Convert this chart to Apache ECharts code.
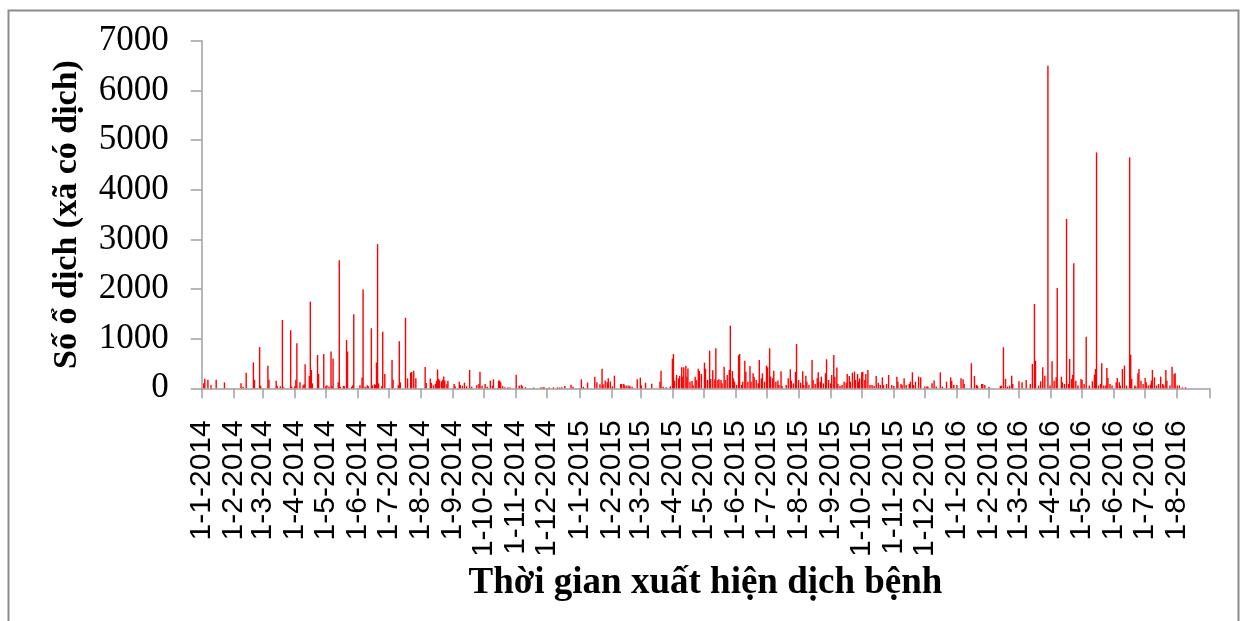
<!DOCTYPE html>
<html>
<head>
<meta charset="utf-8">
<script src="https://cdn.jsdelivr.net/npm/echarts@6/dist/echarts.min.js"></script>
<style>html,body{margin:0;padding:0;background:#fff}#c{width:1242px;height:621px}</style>
</head>
<body>
<div id="c"></div>
<script>
// Axis range (daily categories) and tick labels
const startDate = '2014-01-01';
const endDate = '2016-09-01';
const yTicks = [0, 1000, 2000, 3000, 4000, 5000, 6000, 7000];
const yTitle = 'Số ổ dịch (xã có dịch)';
const xTitle = 'Thời gian xuất hiện dịch bệnh';

// Daily outbreak counts: [month-day, value]
const cases2014 = [
['01-03',100],['01-04',190],['01-07',170],['01-10',60],['01-15',170],['01-23',120],
['02-08',100],['02-10',30],['02-13',315],['02-20',520],['02-21',170],['02-26',830],['02-27',50],
['03-06',455],['03-07',170],['03-14',150],['03-15',40],['03-18',40],['03-20',1375],['03-21',20],['03-28',1170],['03-29',30],
['04-01',40],['04-02',170],['04-03',905],['04-06',120],['04-09',60],['04-10',80],['04-11',485],['04-15',250],['04-16',1745],['04-17',370],['04-18',100],['04-23',670],['04-24',290],['04-29',690],
['05-01',40],['05-02',60],['05-04',30],['05-06',740],['05-07',40],['05-08',600],['05-13',120],['05-14',2580],['05-15',30],['05-18',50],['05-19',40],['05-21',975],['05-22',740],['05-26',30],['05-27',60],['05-28',1490],
['06-03',60],['06-05',220],['06-06',1990],['06-08',30],['06-10',60],['06-11',40],['06-14',1210],['06-15',60],['06-17',80],['06-18',70],['06-19',520],['06-20',2905],['06-21',100],['06-24',40],['06-25',1140],['06-27',290],
['07-04',570],['07-05',170],['07-10',60],['07-11',950],['07-12',120],['07-17',1420],['07-19',200],['07-22',315],['07-23',330],['07-25',355],['07-27',200],
['08-05',430],['08-06',105],['08-10',195],['08-11',110],['08-13',60],['08-15',90],['08-16',150],['08-17',380],['08-18',190],['08-19',160],['08-21',140],['08-22',170],['08-23',240],['08-24',155],['08-26',80],['08-27',150],
['09-02',87],['09-03',40],['09-07',134],['09-08',67],['09-10',50],['09-12',114],['09-14',40],['09-17',370],['09-19',30],['09-24',67],['09-26',87],['09-27',335],['09-29',50],
['10-02',87],['10-04',30],['10-07',155],['10-09',50],['10-10',180],['10-15',155],['10-16',155],['10-17',120],['10-19',40],['10-21',20],['10-24',20],['10-26',15],
['11-01',275],['11-04',50],['11-06',70],['11-07',40],['11-10',20],['11-18',15],['11-25',20],['11-27',20],['11-28',20],
['12-03',15],['12-07',20],['12-11',20],['12-13',15],['12-15',20],['12-18',47],['12-24',74],['12-26',30]
];
const cases2015 = [
['01-03',180],['01-05',30],['01-09',114],['01-16',235],['01-18',120],['01-21',80],['01-23',395],['01-24',80],['01-26',155],['01-28',120],['01-29',200],['01-31',134],
['02-02',40],['02-04',255],['02-10',87],['02-11',87],['02-13',87],['02-14',54],['02-16',54],['02-18',54],['02-19',40],['02-21',30],['02-26',180],
['03-01',215],['03-02',60],['03-06',114],['03-12',94],['03-20',134],['03-21',355],['03-23',30],['03-26',20],['03-30',40],
['04-01',597],['04-02',690],['04-03',155],['04-05',268],['04-07',200],['04-08',248],['04-10',423],['04-11',235],['04-12',423],['04-14',456],['04-15',235],['04-16',400],['04-18',134],['04-20',148],['04-21',60],['04-23',235],['04-24',168],['04-26',396],['04-27',350],['04-29',290],
['05-02',517],['05-03',396],['05-05',168],['05-07',758],['05-08',188],['05-10',362],['05-12',181],['05-13',805],['05-15',168],['05-16',181],['05-18',168],['05-19',100],['05-21',436],['05-22',168],['05-24',268],['05-26',369],['05-27',1261],['05-29',349],['05-30',200],['05-31',134],
['06-02',67],['06-04',664],['06-05',691],['06-07',67],['06-08',134],['06-10',557],['06-11',335],['06-13',134],['06-15',450],['06-16',134],['06-18',302],['06-19',235],['06-21',168],['06-23',100],['06-24',570],['06-26',200],['06-27',302],['06-29',134],
['07-01',456],['07-02',423],['07-04',805],['07-05',235],['07-07',200],['07-08',355],['07-10',134],['07-12',155],['07-13',67],['07-15',342],['07-16',47],['07-20',67],['07-22',200],['07-24',382],['07-25',155],['07-27',100],['07-29',329],['07-30',892],
['08-01',168],['08-03',114],['08-05',342],['08-06',67],['08-08',255],['08-09',134],['08-11',67],['08-14',570],['08-15',168],['08-17',87],['08-19',200],['08-20',322],['08-22',134],['08-23',235],['08-25',100],['08-27',302],['08-28',584],['08-30',168],
['09-01',100],['09-02',268],['09-04',671],['09-05',235],['09-07',420],['09-08',87],['09-10',47],['09-12',67],['09-14',134],['09-16',114],['09-17',288],['09-19',248],['09-20',134],['09-22',315],['09-24',335],['09-25',168],['09-27',288],['09-28',134],['09-29',200],
['10-01',322],['10-02',335],['10-04',168],['10-05',288],['10-07',369],['10-09',67],['10-11',67],['10-13',47],['10-15',248],['10-17',114],['10-19',67],['10-21',221],['10-22',67],['10-25',87],['10-27',268],['10-30',67],
['11-01',47],['11-04',235],['11-05',134],['11-08',87],['11-09',67],['11-11',200],['11-13',67],['11-16',87],['11-17',134],['11-19',322],['11-20',67],['11-22',134],['11-25',235],['11-27',221],
['12-01',34],['12-03',34],['12-04',34],['12-08',100],['12-10',155],['12-12',34],['12-16',322],['12-18',34],['12-22',134],['12-26',221],['12-27',148],['12-29',67]
];
const cases2016 = [
['01-01',67],['01-05',200],['01-07',181],['01-08',87],['01-15',503],['01-18',248],['01-20',67],['01-21',47],['01-25',87],['01-26',87],['01-28',67],
['02-01',27],['02-12',47],['02-13',54],['02-15',825],['02-17',190],['02-19',34],['02-21',54],['02-23',255],['02-24',87],
['03-01',141],['03-04',121],['03-08',168],['03-12',87],['03-14',490],['03-16',1698],['03-17',557],['03-20',54],['03-22',141],['03-24',423],['03-26',255],['03-29',6495],['03-31',54],
['04-02',543],['04-04',154],['04-06',221],['04-07',2020],['04-11',235],['04-12',121],['04-14',87],['04-16',3409],['04-18',87],['04-19',590],['04-21',188],['04-22',275],['04-23',2516],['04-25',154],['04-27',54],['04-30',188],
['05-01',168],['05-03',87],['05-05',1040],['05-08',54],['05-11',141],['05-13',275],['05-14',389],['05-15',4750],['05-17',54],['05-19',87],['05-20',503],['05-22',54],['05-24',54],['05-25',409],['05-26',208],['05-28',87],['05-30',54],
['06-03',121],['06-04',208],['06-06',121],['06-07',54],['06-09',389],['06-11',456],['06-13',54],['06-16',4650],['06-17',678],['06-18',188],['06-21',54],['06-22',34],['06-24',302],['06-25',389],['06-27',154],['06-29',87],
['07-01',208],['07-02',121],['07-04',54],['07-06',74],['07-07',154],['07-08',369],['07-10',221],['07-12',54],['07-14',87],['07-16',235],['07-18',87],['07-19',54],['07-21',369],['07-22',154],['07-25',54],['07-27',436],['07-29',289],['07-30',302],
['08-01',54],['08-03',54],['08-06',20],['08-09',20]
];

// Build daily categories and values
const pad = n => (n < 10 ? '0' : '') + n;
const categories = [];
{
  let d = new Date(startDate + 'T00:00:00Z');
  const end = new Date(endDate + 'T00:00:00Z');
  while (d <= end) {
    categories.push(d.getUTCFullYear() + '-' + pad(d.getUTCMonth() + 1) + '-' + pad(d.getUTCDate()));
    d = new Date(d.getTime() + 86400000);
  }
}
const lookup = {};
[[2014, cases2014], [2015, cases2015], [2016, cases2016]].forEach(([y, arr]) => {
  arr.forEach(([md, v]) => { lookup[y + '-' + md] = v; });
});
const values = categories.map(c => (c in lookup ? lookup[c] : 0));

const fmtDate = v => { const p = v.split('-'); return (+p[2]) + '-' + (+p[1]) + '-' + p[0]; };
const isMonthStart = (i, v) => v.slice(8) === '01';

const chart = echarts.init(document.getElementById('c'), null, {renderer: 'canvas'});
chart.setOption({
  animation: false,
  backgroundColor: '#ffffff',
  graphic: [{
    type: 'rect', silent: true,
    shape: {x: 8.5, y: 10.5, width: 1230, height: 640},
    style: {fill: 'none', stroke: '#8c8c8c', lineWidth: 2}
  }],
  grid: {left: 201.7, right: 32.7, top: 40.7, bottom: 232.7, containLabel: false},
  xAxis: {
    type: 'category',
    data: categories,
    boundaryGap: false,
    name: xTitle,
    nameLocation: 'middle',
    nameGap: 176,
    nameTextStyle: {fontFamily: 'Liberation Serif', fontWeight: 'bold', fontSize: 37, color: '#000'},
    axisLine: {lineStyle: {color: '#a0a0a0', width: 1.5}},
    axisTick: {show: true, interval: isMonthStart, length: 10, lineStyle: {color: '#a0a0a0', width: 1.5}},
    axisLabel: {
      interval: (i, v) => isMonthStart(i, v) && v !== endDate,
      rotate: 90, margin: 32,
      fontFamily: 'Liberation Sans', fontSize: 30, color: '#000',
      formatter: fmtDate
    },
    splitLine: {show: false}
  },
  yAxis: {
    type: 'value',
    min: yTicks[0], max: yTicks[yTicks.length - 1], interval: 1000,
    name: yTitle,
    nameLocation: 'middle',
    nameGap: 117,
    nameRotate: 90,
    nameTextStyle: {fontFamily: 'Liberation Serif', fontWeight: 'bold', fontSize: 34, color: '#000'},
    axisLine: {show: true, lineStyle: {color: '#a0a0a0', width: 1.5}},
    axisTick: {show: true, length: 11, lineStyle: {color: '#a0a0a0', width: 1.5}},
    axisLabel: {margin: 33, fontFamily: 'Liberation Serif', fontSize: 35, color: '#000', formatter: v => String(v)},
    splitLine: {show: false}
  },
  series: [{
    type: 'bar',
    data: values,
    barWidth: 1.4,
    itemStyle: {color: '#ff0000'},
    emphasis: {disabled: true}
  }]
});
</script>
</body>
</html>
